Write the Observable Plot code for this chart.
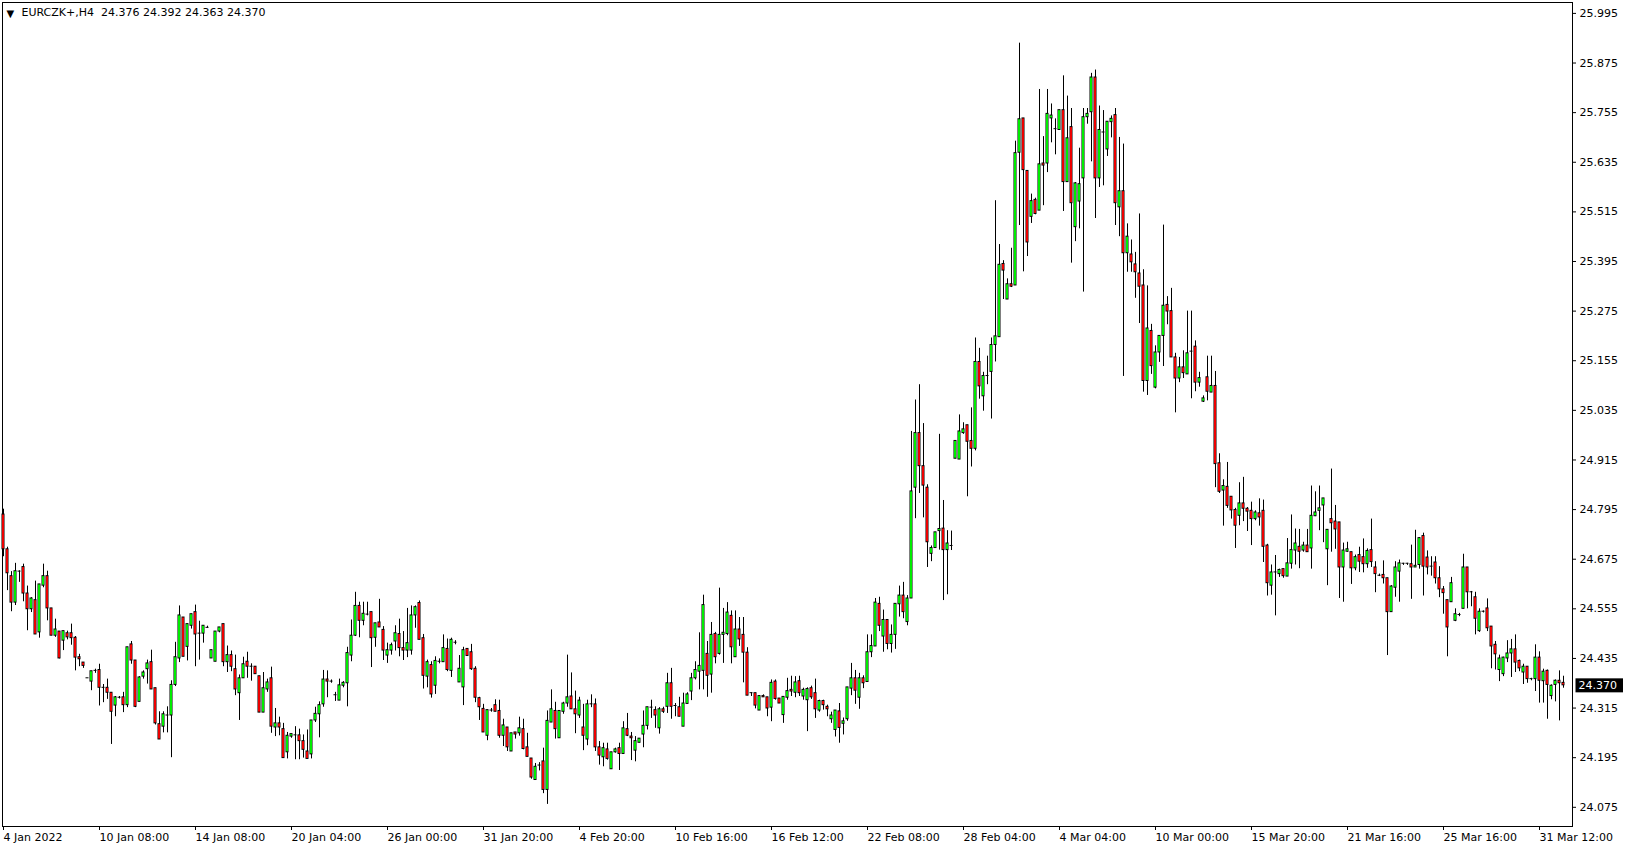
<!DOCTYPE html>
<html><head><meta charset="utf-8">
<script src="https://cdn.jsdelivr.net/npm/d3@7"></script>
<script src="https://cdn.jsdelivr.net/npm/@observablehq/plot@0.6"></script>
<style>
html,body{margin:0;padding:0;background:#fff;}
#chart svg{display:block;}
</style></head><body><div id="chart"></div>
<script>
const symbol = "EURCZK+,H4";
const open = [
24.783,24.699,24.634,24.570,24.645,24.656,24.592,24.554,24.576,24.498,24.611,24.634,24.556,24.490,24.500,24.478,24.496,24.496,24.485,24.438,
24.425,24.387,24.379,24.405,24.407,24.364,24.364,24.352,24.321,24.340,24.341,24.322,24.469,24.430,24.330,24.391,24.409,24.426,24.363,24.276,
24.270,24.297,24.297,24.371,24.435,24.534,24.463,24.514,24.547,24.495,24.495,24.509,24.435,24.427,24.500,24.518,24.426,24.443,24.409,24.351,
24.387,24.427,24.415,24.415,24.392,24.304,24.360,24.387,24.268,24.278,24.264,24.208,24.246,24.249,24.249,24.235,24.210,24.203,24.285,24.300,
24.324,24.384,24.379,24.346,24.333,24.369,24.375,24.442,24.490,24.562,24.526,24.541,24.547,24.485,24.522,24.504,24.442,24.454,24.476,24.494,
24.460,24.454,24.454,24.539,24.569,24.484,24.391,24.419,24.369,24.427,24.426,24.458,24.405,24.473,24.377,24.365,24.458,24.450,24.410,24.339,
24.313,24.248,24.309,24.322,24.308,24.248,24.268,24.210,24.256,24.254,24.264,24.220,24.193,24.141,24.176,24.186,24.117,24.280,24.308,24.242,
24.306,24.326,24.343,24.312,24.297,24.268,24.239,24.324,24.324,24.220,24.196,24.215,24.167,24.208,24.218,24.204,24.264,24.246,24.212,24.231,
24.251,24.272,24.316,24.310,24.266,24.312,24.318,24.375,24.320,24.317,24.270,24.325,24.355,24.387,24.403,24.405,24.446,24.396,24.494,24.446,
24.492,24.494,24.538,24.438,24.505,24.492,24.449,24.351,24.351,24.309,24.344,24.341,24.316,24.379,24.338,24.298,24.340,24.359,24.352,24.380,
24.343,24.334,24.363,24.351,24.309,24.332,24.318,24.288,24.262,24.307,24.277,24.288,24.362,24.387,24.340,24.387,24.378,24.450,24.464,24.567,
24.488,24.528,24.470,24.492,24.566,24.587,24.523,24.580,24.848,24.980,24.900,24.848,24.688,24.702,24.743,24.749,24.697,24.707,24.918,24.916,
24.980,24.999,24.961,24.942,25.152,25.069,25.118,25.128,25.193,25.212,25.389,25.303,25.340,25.337,25.658,25.741,25.614,25.503,25.544,25.518,
25.632,25.632,25.741,25.715,25.713,25.761,25.587,25.720,25.478,25.540,25.596,25.744,25.756,25.840,25.596,25.707,25.666,25.732,25.749,25.526,
25.565,25.415,25.412,25.388,25.366,25.337,25.106,25.227,25.090,25.175,25.215,25.290,25.275,25.163,25.112,25.139,25.122,25.177,25.189,25.102,
25.056,25.115,25.078,25.094,24.907,24.841,24.850,24.826,24.794,24.780,24.810,24.797,24.792,24.772,24.786,24.792,24.708,24.611,24.643,24.639,
24.651,24.633,24.664,24.696,24.705,24.696,24.708,24.701,24.779,24.792,24.805,24.699,24.772,24.766,24.764,24.655,24.693,24.692,24.653,24.685,
24.680,24.663,24.697,24.655,24.635,24.637,24.629,24.547,24.606,24.645,24.664,24.664,24.663,24.655,24.661,24.731,24.679,24.657,24.667,24.629,
24.602,24.576,24.571,24.526,24.540,24.555,24.655,24.595,24.583,24.501,24.548,24.556,24.512,24.468,24.407,24.397,24.435,24.447,24.457,24.429,
24.401,24.415,24.385,24.385,24.437,24.380,24.405,24.344,24.371,24.381,24.376];
const high = [
24.796,24.704,24.645,24.665,24.647,24.663,24.610,24.582,24.622,24.614,24.663,24.646,24.556,24.530,24.500,24.501,24.501,24.518,24.488,24.445,
24.425,24.387,24.404,24.409,24.421,24.372,24.385,24.352,24.343,24.343,24.353,24.462,24.476,24.430,24.391,24.405,24.431,24.455,24.363,24.306,
24.306,24.318,24.381,24.474,24.562,24.534,24.518,24.542,24.564,24.525,24.514,24.513,24.455,24.500,24.510,24.518,24.465,24.453,24.443,24.395,
24.438,24.450,24.422,24.415,24.392,24.401,24.385,24.414,24.314,24.293,24.278,24.256,24.252,24.270,24.264,24.250,24.262,24.285,24.317,24.330,
24.406,24.405,24.383,24.353,24.385,24.379,24.462,24.528,24.595,24.571,24.571,24.571,24.547,24.520,24.578,24.512,24.472,24.472,24.514,24.530,
24.500,24.556,24.562,24.562,24.574,24.493,24.431,24.427,24.439,24.434,24.492,24.482,24.484,24.478,24.442,24.462,24.458,24.469,24.415,24.341,
24.324,24.310,24.314,24.335,24.334,24.288,24.268,24.254,24.256,24.293,24.288,24.254,24.193,24.181,24.183,24.218,24.308,24.359,24.329,24.308,
24.329,24.443,24.400,24.356,24.341,24.324,24.334,24.347,24.337,24.234,24.230,24.230,24.208,24.218,24.230,24.282,24.302,24.256,24.246,24.241,
24.308,24.317,24.334,24.318,24.316,24.317,24.399,24.411,24.326,24.341,24.351,24.352,24.399,24.427,24.497,24.588,24.476,24.522,24.498,24.605,
24.556,24.570,24.550,24.550,24.534,24.534,24.461,24.352,24.351,24.344,24.347,24.341,24.383,24.383,24.338,24.342,24.387,24.392,24.391,24.392,
24.363,24.364,24.368,24.385,24.334,24.334,24.322,24.305,24.309,24.326,24.291,24.365,24.423,24.406,24.399,24.393,24.492,24.492,24.580,24.583,
24.552,24.528,24.516,24.567,24.610,24.619,24.587,24.984,25.060,25.097,25.003,24.855,24.707,24.740,24.977,24.817,24.744,24.743,24.961,25.024,
25.005,24.999,25.041,25.210,25.185,25.127,25.166,25.210,25.542,25.436,25.397,25.353,25.427,25.686,25.923,25.741,25.614,25.558,25.548,25.811,
25.697,25.811,25.776,25.740,25.761,25.844,25.795,25.765,25.586,25.669,25.765,25.765,25.850,25.858,25.771,25.760,25.733,25.747,25.765,25.695,
25.679,25.486,25.447,25.417,25.510,25.375,25.336,25.243,25.191,25.215,25.483,25.310,25.330,25.173,25.163,25.179,25.275,25.275,25.203,25.127,
25.070,25.166,25.166,25.129,24.930,24.867,24.909,24.826,24.798,24.860,24.873,24.800,24.813,24.792,24.821,24.818,24.711,24.661,24.684,24.651,
24.651,24.725,24.782,24.748,24.747,24.716,24.747,24.852,24.838,24.852,24.822,24.746,24.893,24.805,24.764,24.714,24.716,24.692,24.685,24.704,
24.724,24.700,24.772,24.669,24.639,24.671,24.629,24.611,24.669,24.673,24.665,24.665,24.709,24.745,24.727,24.738,24.695,24.681,24.681,24.657,
24.609,24.576,24.631,24.555,24.544,24.687,24.655,24.597,24.595,24.555,24.550,24.579,24.512,24.476,24.443,24.438,24.478,24.481,24.492,24.431,
24.421,24.415,24.387,24.468,24.451,24.409,24.407,24.371,24.383,24.405,24.392];
const low = [
24.681,24.599,24.548,24.563,24.619,24.572,24.502,24.546,24.493,24.484,24.606,24.526,24.490,24.486,24.434,24.454,24.480,24.467,24.405,24.415,
24.411,24.387,24.357,24.399,24.320,24.328,24.336,24.227,24.294,24.337,24.304,24.316,24.421,24.316,24.330,24.385,24.373,24.360,24.274,24.239,
24.255,24.255,24.195,24.367,24.425,24.439,24.429,24.506,24.415,24.431,24.472,24.508,24.435,24.427,24.497,24.415,24.401,24.403,24.345,24.285,
24.387,24.387,24.380,24.397,24.304,24.304,24.353,24.254,24.246,24.248,24.194,24.192,24.242,24.190,24.190,24.194,24.192,24.192,24.280,24.243,
24.317,24.340,24.375,24.331,24.333,24.364,24.318,24.427,24.488,24.485,24.514,24.538,24.413,24.462,24.510,24.430,24.423,24.443,24.453,24.439,
24.430,24.437,24.443,24.508,24.480,24.361,24.364,24.339,24.348,24.422,24.426,24.403,24.389,24.468,24.377,24.321,24.441,24.406,24.328,24.285,
24.256,24.236,24.305,24.306,24.242,24.222,24.210,24.210,24.240,24.247,24.214,24.197,24.143,24.141,24.163,24.108,24.082,24.280,24.240,24.242,
24.300,24.317,24.312,24.253,24.290,24.212,24.224,24.316,24.210,24.177,24.173,24.189,24.167,24.206,24.164,24.204,24.246,24.188,24.185,24.231,
24.219,24.262,24.290,24.266,24.252,24.302,24.302,24.288,24.294,24.294,24.270,24.325,24.333,24.383,24.359,24.359,24.341,24.351,24.422,24.443,
24.423,24.490,24.422,24.438,24.464,24.376,24.345,24.343,24.313,24.309,24.341,24.294,24.282,24.334,24.326,24.278,24.334,24.343,24.340,24.343,
24.334,24.258,24.336,24.290,24.305,24.310,24.294,24.278,24.245,24.230,24.250,24.283,24.345,24.324,24.312,24.362,24.378,24.437,24.464,24.500,
24.450,24.456,24.448,24.457,24.535,24.531,24.514,24.580,24.773,24.834,24.775,24.655,24.669,24.702,24.697,24.575,24.589,24.696,24.918,24.916,
24.977,24.826,24.898,24.937,25.062,25.033,25.097,25.014,25.152,25.212,25.303,25.303,25.332,25.337,25.482,25.370,25.407,25.487,25.508,25.518,
25.530,25.610,25.682,25.653,25.713,25.516,25.587,25.391,25.443,25.474,25.321,25.727,25.636,25.499,25.574,25.578,25.649,25.694,25.482,25.455,
25.117,25.369,25.369,25.306,25.245,25.079,25.071,25.122,25.087,25.151,25.141,25.242,25.163,25.029,25.102,25.112,25.122,25.063,25.080,25.091,
25.054,25.058,25.078,24.848,24.834,24.755,24.798,24.772,24.701,24.756,24.766,24.742,24.708,24.768,24.755,24.667,24.586,24.588,24.538,24.631,
24.629,24.633,24.651,24.661,24.652,24.692,24.692,24.651,24.778,24.744,24.715,24.611,24.692,24.699,24.580,24.571,24.692,24.614,24.647,24.643,
24.642,24.653,24.655,24.594,24.633,24.615,24.442,24.547,24.583,24.571,24.660,24.660,24.578,24.655,24.651,24.586,24.637,24.634,24.615,24.582,
24.542,24.439,24.571,24.524,24.536,24.555,24.555,24.560,24.492,24.498,24.545,24.500,24.410,24.407,24.379,24.391,24.425,24.389,24.401,24.403,
24.372,24.375,24.381,24.355,24.327,24.327,24.288,24.335,24.330,24.284,24.363];
const close = [
24.699,24.641,24.570,24.646,24.645,24.592,24.554,24.580,24.493,24.614,24.634,24.556,24.490,24.505,24.435,24.501,24.486,24.484,24.437,24.433,
24.417,24.387,24.404,24.405,24.364,24.364,24.352,24.306,24.341,24.340,24.322,24.462,24.430,24.318,24.389,24.401,24.423,24.360,24.278,24.239,
24.300,24.297,24.371,24.438,24.539,24.439,24.518,24.542,24.493,24.495,24.514,24.509,24.455,24.500,24.510,24.426,24.443,24.415,24.360,24.387,
24.421,24.415,24.415,24.397,24.304,24.363,24.377,24.270,24.278,24.268,24.194,24.248,24.252,24.249,24.235,24.214,24.192,24.285,24.301,24.322,
24.384,24.379,24.379,24.346,24.370,24.376,24.448,24.490,24.562,24.526,24.543,24.541,24.484,24.520,24.510,24.454,24.455,24.467,24.496,24.460,
24.454,24.472,24.539,24.559,24.480,24.393,24.426,24.348,24.429,24.427,24.460,24.407,24.480,24.473,24.410,24.455,24.441,24.409,24.340,24.317,
24.256,24.310,24.309,24.306,24.248,24.273,24.220,24.254,24.251,24.266,24.216,24.197,24.147,24.173,24.176,24.117,24.284,24.312,24.264,24.308,
24.326,24.341,24.312,24.300,24.333,24.248,24.324,24.324,24.220,24.200,24.218,24.192,24.208,24.215,24.204,24.266,24.248,24.242,24.235,24.241,
24.272,24.317,24.316,24.297,24.312,24.306,24.375,24.318,24.320,24.294,24.326,24.348,24.387,24.407,24.417,24.564,24.393,24.492,24.438,24.492,
24.497,24.546,24.462,24.505,24.481,24.449,24.345,24.351,24.321,24.344,24.341,24.314,24.376,24.337,24.326,24.342,24.356,24.355,24.377,24.351,
24.359,24.361,24.341,24.312,24.332,24.322,24.312,24.297,24.309,24.267,24.283,24.365,24.387,24.357,24.387,24.375,24.450,24.465,24.570,24.514,
24.528,24.470,24.492,24.567,24.587,24.547,24.580,24.839,24.980,24.900,24.853,24.716,24.702,24.740,24.748,24.697,24.713,24.707,24.961,24.984,
24.989,24.959,24.942,25.152,25.093,25.118,25.118,25.193,25.214,25.387,25.373,25.340,25.334,25.657,25.739,25.616,25.441,25.541,25.510,25.630,
25.627,25.752,25.748,25.715,25.761,25.587,25.693,25.536,25.584,25.582,25.744,25.752,25.840,25.596,25.713,25.707,25.733,25.740,25.536,25.565,
25.415,25.455,25.393,25.369,25.334,25.106,25.233,25.142,25.175,25.215,25.288,25.274,25.163,25.112,25.139,25.125,25.173,25.177,25.102,25.113,
25.064,25.080,25.094,24.905,24.838,24.852,24.804,24.793,24.756,24.810,24.797,24.790,24.772,24.788,24.776,24.705,24.617,24.643,24.643,24.649,
24.634,24.665,24.697,24.713,24.693,24.708,24.692,24.780,24.788,24.798,24.822,24.746,24.762,24.747,24.655,24.696,24.699,24.653,24.680,24.669,
24.663,24.695,24.668,24.639,24.635,24.629,24.547,24.609,24.655,24.665,24.664,24.664,24.655,24.659,24.726,24.657,24.655,24.657,24.629,24.602,
24.593,24.510,24.617,24.542,24.540,24.655,24.595,24.595,24.531,24.548,24.548,24.508,24.464,24.445,24.435,24.437,24.447,24.457,24.425,24.411,
24.415,24.385,24.385,24.437,24.381,24.403,24.371,24.369,24.381,24.375,24.370];

const yTicks = [24.075,24.195,24.315,24.435,24.555,24.675,24.795,24.915,25.035,25.155,25.275,25.395,25.515,25.635,25.755,25.875,25.995];
const xTickIndex = [0,24,48,72,96,120,144,168,192,216,240,264,288,312,336,360,384];
const xTickLabels = ["4 Jan 2022","10 Jan 08:00","14 Jan 08:00","20 Jan 04:00","26 Jan 00:00","31 Jan 20:00","4 Feb 20:00","10 Feb 16:00","16 Feb 12:00","22 Feb 08:00","28 Feb 04:00","4 Mar 04:00","10 Mar 00:00","15 Mar 20:00","21 Mar 16:00","25 Mar 16:00","31 Mar 12:00"];

const candles = open.map((o, i) => ({i, o, h: high[i], l: low[i], c: close[i]}));
const N = candles.length;
const last = candles[N - 1];
const fmt = d3.format(".3f");
const header = `${symbol}  ${fmt(last.o)} ${fmt(last.h)} ${fmt(last.l)} ${fmt(last.c)}`;
const colored = candles.filter(d => d.o !== d.c);

const plot = Plot.plot({
  width: 1629, height: 850,
  marginTop: 2, marginRight: 57, marginBottom: 24, marginLeft: 2,
  style: {fontFamily: "'DejaVu Sans', Verdana, sans-serif", fontSize: "11px", background: "#fff", color: "#000"},
  x: {type: "linear", domain: [0, N - 1], range: [3, 3 + 4 * (N - 1)]},
  y: {type: "linear", domain: [24.075, 25.995], range: [806.8, 12.9]},
  marks: [
    Plot.frame({stroke: "#000", strokeWidth: 1}),
    Plot.ruleX(candles, {x: "i", y1: "l", y2: "h", stroke: "#000", strokeWidth: 1}),
    Plot.rect(candles, {x1: d => d.i - 0.375, x2: d => d.i + 0.375,
      y1: d => Math.min(d.o, d.c), y2: d => Math.max(d.o, d.c),
      fill: "#000", insetTop: -0.5, insetBottom: -0.5}),
    Plot.rect(colored, {x1: d => d.i - 0.23, x2: d => d.i + 0.23,
      y1: d => Math.min(d.o, d.c), y2: d => Math.max(d.o, d.c),
      fill: d => d.c > d.o ? "#00ff00" : "#ff0000", insetTop: 0.5, insetBottom: 0.5}),
    Plot.axisY(yTicks, {anchor: "right", label: null, tickSize: 3, tickPadding: 4, tickFormat: fmt, fill: "#000", stroke: "#000"}),
    Plot.axisX(xTickIndex, {anchor: "bottom", label: null, tickSize: 4, tickPadding: 3, textAnchor: "start",
      tickFormat: d => xTickLabels[xTickIndex.indexOf(d)], fill: "#000", stroke: "#000"}),
    Plot.text([header], {frameAnchor: "top-left", dx: 19, dy: 6, lineAnchor: "top", textAnchor: "start", fill: "#000"}),
    Plot.text(["\u25BC"], {frameAnchor: "top-left", dx: 4, dy: 7, lineAnchor: "top", textAnchor: "start", fontSize: 10, fill: "#000"}),
    Plot.text([last.c], {y: d => d, frameAnchor: "right", dx: 6, textAnchor: "start", text: d => fmt(d), fill: "#fff"})
  ]
});
document.getElementById("chart").appendChild(plot);

// black background box behind the current price label
const svg = d3.select(plot.tagName === "svg" ? plot : plot.querySelector("svg"));
svg.selectAll("text").filter(function() { return this.textContent === fmt(last.c) && d3.select(this.parentNode).attr("fill") === "#fff"; })
  .each(function() {
    const b = this.getBBox();
    const tr = this.getAttribute("transform");
    const parent = this.parentNode;
    d3.select(parent).insert("rect", () => parent.firstChild)
      .attr("x", b.x - 3).attr("y", b.y - 0.5).attr("width", b.width + 9).attr("height", b.height + 1)
      .attr("fill", "#000").attr("transform", tr);
  });
</script></body></html>
